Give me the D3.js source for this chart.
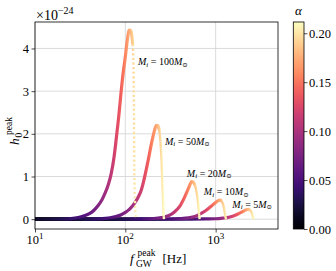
<!DOCTYPE html>
<html>
<head>
<meta charset="utf-8">
<script src="https://cdn.jsdelivr.net/npm/d3@7"></script>
<style>
  body { margin: 0; background: #fff; }
  svg { display: block; }
  text { font-family: "Liberation Serif", "DejaVu Serif", serif; fill: #000; }
</style>
</head>
<body>
<svg id="chart" width="336" height="271"></svg>
<script>
// each point: [f_GW (Hz), h0 (x1e-24), alpha]
const m100 = [
  [10, 0, 0.016], [15, 0.001, 0.024], [20, 0.004, 0.032], [25, 0.015, 0.040], [30, 0.04, 0.047],
  [35, 0.08, 0.055], [40, 0.13, 0.063], [45, 0.21, 0.071], [50, 0.32, 0.079], [55, 0.45, 0.087],
  [60, 0.62, 0.095], [65, 0.82, 0.103], [70, 1.08, 0.111], [75, 1.45, 0.119], [80, 1.95, 0.127],
  [85, 2.45, 0.134], [90, 3.0, 0.142], [95, 3.45, 0.150], [100, 3.8, 0.158], [105, 4.18, 0.166],
  [110.7, 4.43, 0.175], [114.5, 4.42, 0.181], [117.8, 4.32, 0.186], [120.8, 4.10, 0.191],
  [122.7, 3.85, 0.194], [124, 3.3, 0.196], [125, 2.5, 0.198], [125.8, 1.6, 0.199],
  [126.6, 0.9, 0.200], [128, 0.4, 0.203], [130.5, 0.12, 0.206], [133.7, 0, 0.212]
];
const m50 = [
  [10, 0, 0.008], [20, 0, 0.016], [30, 0.0005, 0.024], [40, 0.002, 0.032], [50, 0.008, 0.040],
  [60, 0.02, 0.047], [70, 0.04, 0.055], [80, 0.065, 0.063], [90, 0.105, 0.071], [100, 0.16, 0.079],
  [110, 0.225, 0.087], [120, 0.31, 0.095], [130, 0.41, 0.103], [140, 0.53, 0.111], [150, 0.68, 0.119],
  [160, 0.90, 0.127], [170, 1.15, 0.134], [180, 1.40, 0.142], [190, 1.66, 0.150], [200, 1.88, 0.158],
  [210, 2.07, 0.166], [221, 2.20, 0.175], [229, 2.19, 0.181], [238, 2.09, 0.188], [246.6, 1.74, 0.195],
  [252.3, 1.35, 0.200], [257, 0.88, 0.203], [263, 0.33, 0.208], [266, 0.1, 0.210], [268, 0, 0.212]
];
const m20 = [
  [10, 0, 0.003], [50, 0, 0.016], [100, 0.001, 0.032], [150, 0.005, 0.047], [200, 0.014, 0.063],
  [250, 0.035, 0.079], [300, 0.08, 0.095], [350, 0.17, 0.111], [400, 0.30, 0.127], [450, 0.50, 0.142],
  [500, 0.72, 0.158], [525, 0.83, 0.166], [543, 0.88, 0.172], [565, 0.87, 0.179], [590, 0.80, 0.187],
  [610, 0.68, 0.193], [627, 0.53, 0.198], [640, 0.37, 0.203], [650, 0.22, 0.206], [658, 0.08, 0.208],
  [664, 0, 0.210]
];
const m10 = [
  [10, 0, 0.002], [100, 0, 0.016], [200, 0.001, 0.032], [300, 0.004, 0.047], [400, 0.012, 0.063],
  [500, 0.03, 0.079], [600, 0.07, 0.095], [700, 0.14, 0.111], [800, 0.22, 0.127], [900, 0.31, 0.142],
  [1000, 0.39, 0.158], [1060, 0.43, 0.168], [1119, 0.445, 0.177], [1170, 0.42, 0.185], [1217, 0.33, 0.193],
  [1245, 0.24, 0.197], [1265, 0.14, 0.200], [1285, 0.05, 0.203], [1310, 0, 0.207]
];
const m5 = [
  [10, 0, 0.001], [200, 0, 0.016], [500, 0.001, 0.040], [800, 0.005, 0.063], [1000, 0.01, 0.079],
  [1200, 0.025, 0.095], [1400, 0.045, 0.111], [1600, 0.08, 0.127], [1800, 0.13, 0.142], [2000, 0.18, 0.158],
  [2150, 0.213, 0.170], [2300, 0.232, 0.182], [2400, 0.22, 0.190], [2480, 0.18, 0.196], [2540, 0.12, 0.201],
  [2590, 0.06, 0.205], [2630, 0.015, 0.208], [2650, 0, 0.210]
];

const masses = [5, 10, 20, 50, 100];
const curves = [m5, m10, m20, m50, m100];
// where each mass label starts, in data units [f, h0]
const labelAt = [[1530, 0.27], [740, 0.56], [480, 1.0], [275, 1.74], [138, 3.61]];

const xTicks = [10, 100, 1000];
const xTickExp = ['1', '2', '3'];
const yTicks = [0, 1, 2, 3, 4];
const cbarTicks = [0, 0.05, 0.10, 0.15, 0.20];
const cbarLabels = ['0.00', '0.05', '0.10', '0.15', '0.20'];
const alphaMax = 0.2115;

const svg = d3.select('#chart');
const plot = { left: 35, right: 278, top: 22, bottom: 229 };

const x = d3.scaleLog().domain([10, 4900]).range([plot.left, plot.right]);
const y = d3.scaleLinear().domain([-0.23, 4.62]).range([plot.bottom, plot.top]);
const color = a => d3.interpolateMagma(a / alphaMax);

const defs = svg.append('defs');
defs.append('clipPath').attr('id', 'clip')
  .append('rect')
  .attr('x', plot.left).attr('y', plot.top)
  .attr('width', plot.right - plot.left).attr('height', plot.bottom - plot.top);

// grid
const grid = svg.append('g').attr('stroke', '#d2d2d2').attr('stroke-width', 0.8);
grid.selectAll('line.gx').data(xTicks).enter().append('line')
  .attr('x1', d => x(d)).attr('x2', d => x(d))
  .attr('y1', plot.top).attr('y2', plot.bottom);
grid.selectAll('line.gy').data(yTicks).enter().append('line')
  .attr('x1', plot.left).attr('x2', plot.right)
  .attr('y1', d => y(d)).attr('y2', d => y(d));

// curves, coloured by alpha along the frequency axis
const line = d3.line().x(d => x(d[0])).y(d => y(d[1])).curve(d3.curveMonotoneX);
const curveG = svg.append('g').attr('clip-path', 'url(#clip)');

curves.forEach((pts, i) => {
  const x0 = x(pts[0][0]), x1 = x(pts[pts.length - 1][0]);
  const grad = defs.append('linearGradient')
    .attr('id', 'grad' + i)
    .attr('gradientUnits', 'userSpaceOnUse')
    .attr('x1', x0).attr('x2', x1).attr('y1', 0).attr('y2', 0);
  grad.selectAll('stop').data(pts).enter().append('stop')
    .attr('offset', d => (x(d[0]) - x0) / (x1 - x0))
    .attr('stop-color', d => color(d[2]));

  // steep fall after the peak is drawn as sparse dots, like the sampled points
  const peak = d3.maxIndex(pts, d => d[1]);
  let split = pts.findIndex((d, j) => j > peak && d[1] < 0.9 * pts[peak][1]) - 1;
  const head = pts.slice(0, split + 1);
  const tail = pts.slice(split);

  curveG.append('path')
    .attr('d', line(head))
    .attr('fill', 'none')
    .attr('stroke', `url(#grad${i})`)
    .attr('stroke-width', 3.2);

  const t = curveG.append('path')
    .attr('d', line(tail))
    .attr('fill', 'none')
    .attr('stroke', `url(#grad${i})`)
    .attr('stroke-width', 2.4);
  const len = t.node().getTotalLength();
  const period = Math.max(len / 38, 2.2);
  t.attr('stroke-dasharray', `2.2 ${period - 2.2}`);
});

// mass labels
function massLabel(g, m, pos) {
  const txt = g.append('text')
    .attr('x', x(pos[0])).attr('y', y(pos[1]))
    .attr('font-size', 10).attr('fill', '#222');
  txt.append('tspan').attr('font-style', 'italic').text('M');
  txt.append('tspan').attr('font-style', 'italic').attr('font-size', 7).attr('dy', 1.5).text('i');
  txt.append('tspan').attr('dy', -1.5).text(' = ' + m);
  txt.append('tspan').attr('font-style', 'italic').text('M');
  txt.append('tspan').attr('font-size', 6.5).attr('dy', 1.5).text('\u2299');
}
const labels = svg.append('g');
masses.forEach((m, i) => massLabel(labels, m, labelAt[i]));

// frame
svg.append('rect')
  .attr('x', plot.left).attr('y', plot.top)
  .attr('width', plot.right - plot.left).attr('height', plot.bottom - plot.top)
  .attr('fill', 'none').attr('stroke', '#000').attr('stroke-width', 0.8);

// x axis
const minor = [];
[10, 100, 1000].forEach(d => { for (let k = 2; k < 10; k++) if (d * k <= 4900) minor.push(d * k); });
const xAxis = svg.append('g').attr('transform', `translate(0,${plot.bottom})`);
xAxis.call(d3.axisBottom(x).tickValues(minor).tickSize(2).tickFormat(''));
xAxis.call(d3.axisBottom(x).tickValues(xTicks).tickSize(3.5).tickFormat(''));
xAxis.selectAll('.domain').remove();
xAxis.selectAll('line').attr('stroke-width', 0.7);
xTicks.forEach((d, i) => {
  const t = svg.append('text')
    .attr('x', x(d)).attr('y', 243.5)
    .attr('text-anchor', 'middle').attr('font-size', 12.5);
  t.append('tspan').text('10');
  t.append('tspan').attr('font-size', 9).attr('dy', -5).text(xTickExp[i]);
});

// y axis
const yAxis = svg.append('g').attr('transform', `translate(${plot.left},0)`);
yAxis.call(d3.axisLeft(y).tickValues(yTicks).tickSize(3.5).tickPadding(2.5).tickFormat(d3.format('d')));
yAxis.selectAll('.domain').remove();
yAxis.selectAll('line').attr('stroke-width', 0.7);
yAxis.selectAll('text')
  .attr('font-family', '"Liberation Serif", "DejaVu Serif", serif')
  .attr('font-size', 12.5);

// offset text
const off = svg.append('text').attr('x', 36).attr('y', 19.5).attr('font-size', 14);
off.append('tspan').text('\u00d710');
off.append('tspan').attr('font-size', 10).attr('dy', -5.5).text('\u221224');

// axis titles
svg.append('text').attr('x', 130).attr('y', 263).attr('font-size', 13.5)
  .attr('font-style', 'italic').text('f');
svg.append('text').attr('x', 136).attr('y', 266.5).attr('font-size', 9.5).text('GW');
svg.append('text').attr('x', 137.5).attr('y', 255.5).attr('font-size', 9.5).text('peak');
svg.append('text').attr('x', 162.5).attr('y', 263).attr('font-size', 13).text('[Hz]');

const yl = svg.append('g').attr('transform', 'rotate(-90)');
yl.append('text').attr('x', -145).attr('y', 18.5).attr('font-size', 13.5)
  .attr('font-style', 'italic').text('h');
yl.append('text').attr('x', -137.5).attr('y', 21.5).attr('font-size', 9.5).text('0');
yl.append('text').attr('x', -135).attr('y', 11.5).attr('font-size', 9.5).text('peak');

// colorbar
const cb = { x: 293.3, w: 10.7 };
const cy = d3.scaleLinear().domain([0, alphaMax]).range([plot.bottom, plot.top]);
const cgrad = defs.append('linearGradient').attr('id', 'cbar')
  .attr('x1', 0).attr('x2', 0).attr('y1', 1).attr('y2', 0);
cgrad.selectAll('stop').data(d3.range(0, 1.0001, 0.05)).enter().append('stop')
  .attr('offset', d => d).attr('stop-color', d => d3.interpolateMagma(d));
svg.append('rect')
  .attr('x', cb.x).attr('y', plot.top).attr('width', cb.w).attr('height', plot.bottom - plot.top)
  .attr('fill', 'url(#cbar)').attr('stroke', '#000').attr('stroke-width', 0.8);
const cAxis = svg.append('g').attr('transform', `translate(${cb.x + cb.w},0)`);
cAxis.call(d3.axisRight(cy).tickValues(cbarTicks).tickSize(3.5).tickPadding(1.5)
  .tickFormat((d, i) => cbarLabels[i]));
cAxis.selectAll('.domain').remove();
cAxis.selectAll('line').attr('stroke-width', 0.7);
cAxis.selectAll('text')
  .attr('font-family', '"Liberation Serif", "DejaVu Serif", serif')
  .attr('font-size', 12.5);
svg.append('text').attr('x', 298.5).attr('y', 15).attr('text-anchor', 'middle')
  .attr('font-size', 13).attr('font-style', 'italic').text('\u03b1');
</script>
</body>
</html>
